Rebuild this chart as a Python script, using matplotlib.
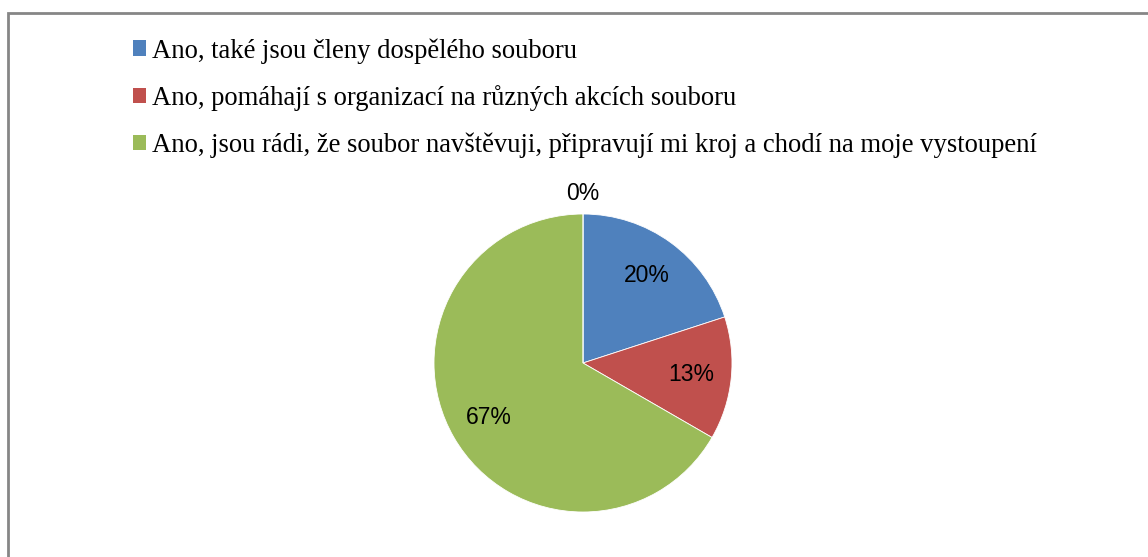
import matplotlib
matplotlib.use("Agg")
import matplotlib.pyplot as plt
from matplotlib.patches import Rectangle
import numpy as np

# answers (counts) - the 4th category has no respondents and no legend entry
labels = [
    "Ano, také jsou členy dospělého souboru",
    "Ano, pomáhají s organizací na různých akcích souboru",
    "Ano, jsou rádi, že soubor navštěvuji, připravují mi kroj a chodí na moje vystoupení",
]
counts = [3, 2, 10, 0]
colors = ["#4F81BD", "#C0504D", "#9BBB59", "#8064A2"]

W, H = 1148, 557
fig = plt.figure(figsize=(W / 100, H / 100), dpi=100)

# gray frame of the chart area (right and bottom run off the picture)
top = 1 - 12.5 / H
fig.patches.append(Rectangle((8 / W, -0.2), 1.2, top + 0.2,
                             transform=fig.transFigure, fill=False,
                             edgecolor="#868686", linewidth=2))

cx, cy, r = 583, 363, 149
ax = fig.add_axes([(cx - r) / W, (H - cy - r) / H, 2 * r / W, 2 * r / H])
wedges, _, pct = ax.pie(counts, colors=colors, startangle=90, counterclock=False,
                        autopct="%.0f%%", pctdistance=0.73,
                        wedgeprops=dict(edgecolor="white", linewidth=0.6),
                        textprops=dict(family="Liberation Sans", fontsize=16.5,
                                       color="black"))
for w, t, c in zip(wedges, pct, counts):
    if c == 0:
        a = np.deg2rad(w.theta1)
        t.set_position((1.14 * np.cos(a), 1.14 * np.sin(a)))
ax.set_xlim(-1, 1)
ax.set_ylim(-1, 1)
ax.set_aspect("equal")
ax.axis("off")

leg = fig.legend(wedges[:3], labels, loc="upper left",
                 bbox_to_anchor=(133 / W, 1 - 38 / H), frameon=False,
                 prop=dict(family="Liberation Serif", size=19.2),
                 handlelength=0.5, handleheight=0.5, handletextpad=0.22,
                 labelspacing=0.8, borderpad=0, borderaxespad=0)
for h in leg.legend_handles:
    h.set_edgecolor("none")

fig.savefig("out.png", dpi=100, facecolor="white")
